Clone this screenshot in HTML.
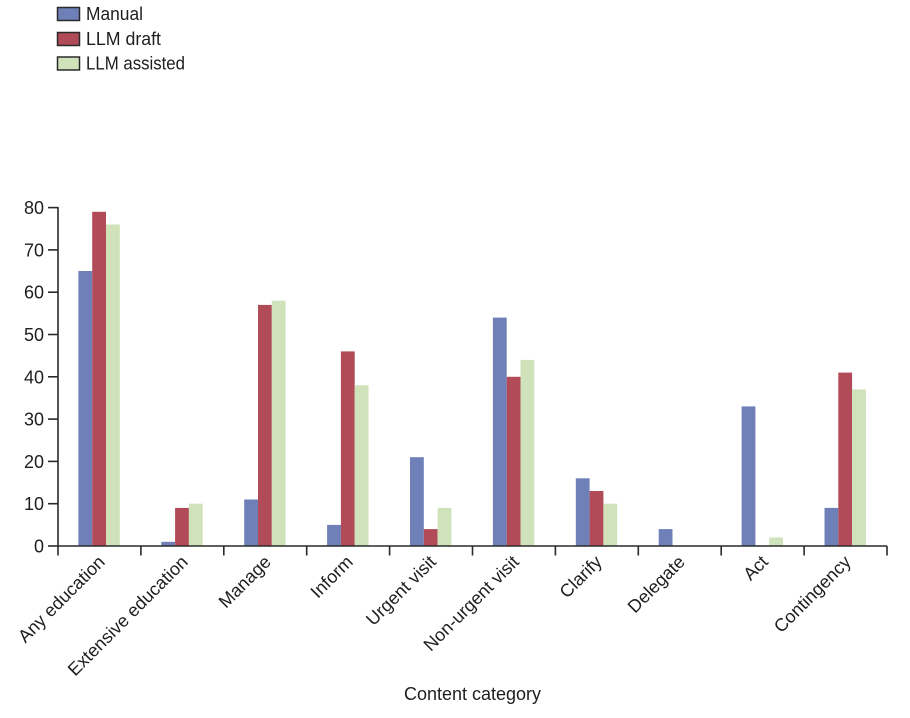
<!DOCTYPE html>
<html>
<head>
<meta charset="utf-8">
<style>
  html, body { margin: 0; padding: 0; background: #ffffff; }
  svg { display: block; }
  text { font-family: "Liberation Sans", "DejaVu Sans", sans-serif; fill: #1e1e1e; }
</style>
</head>
<body>
<svg width="910" height="718" viewBox="0 0 910 718" xmlns="http://www.w3.org/2000/svg">
  <!-- Legend -->
  <rect x="57.5" y="7.5" width="22" height="13" fill="#6f80b9" stroke="#2a2a2a" stroke-width="1.5"/>
  <text x="86" y="20" font-size="18" textLength="57" lengthAdjust="spacingAndGlyphs">Manual</text>
  <rect x="57.5" y="32.5" width="22" height="13" fill="#b04b57" stroke="#2a2a2a" stroke-width="1.5"/>
  <text x="86" y="45" font-size="18" textLength="75" lengthAdjust="spacingAndGlyphs">LLM draft</text>
  <rect x="57.5" y="57" width="22" height="13" fill="#d0e2ba" stroke="#2a2a2a" stroke-width="1.5"/>
  <text x="86" y="69.5" font-size="18" textLength="99" lengthAdjust="spacingAndGlyphs">LLM assisted</text>

  <g id="bars">
    <!-- Any education 65,79,76 -->
    <rect x="78.4" y="271.0" width="13.8" height="275.0" fill="#6f80b9"/>
    <rect x="92.2" y="211.8" width="13.8" height="334.2" fill="#b04b57"/>
    <rect x="106.0" y="224.5" width="13.8" height="321.5" fill="#d0e2ba"/>
    <!-- Extensive education 1,9,10 -->
    <rect x="161.3" y="541.8" width="13.8" height="4.2" fill="#6f80b9"/>
    <rect x="175.1" y="507.9" width="13.8" height="38.1" fill="#b04b57"/>
    <rect x="188.9" y="503.7" width="13.8" height="42.3" fill="#d0e2ba"/>
    <!-- Manage 11,57,58 -->
    <rect x="244.2" y="499.5" width="13.8" height="46.5" fill="#6f80b9"/>
    <rect x="258.0" y="304.9" width="13.8" height="241.1" fill="#b04b57"/>
    <rect x="271.8" y="300.7" width="13.8" height="245.3" fill="#d0e2ba"/>
    <!-- Inform 5,46,38 -->
    <rect x="327.1" y="524.9" width="13.8" height="21.1" fill="#6f80b9"/>
    <rect x="340.9" y="351.4" width="13.8" height="194.6" fill="#b04b57"/>
    <rect x="354.7" y="385.3" width="13.8" height="160.7" fill="#d0e2ba"/>
    <!-- Urgent visit 21,4,9 -->
    <rect x="410.0" y="457.2" width="13.8" height="88.8" fill="#6f80b9"/>
    <rect x="423.8" y="529.1" width="13.8" height="16.9" fill="#b04b57"/>
    <rect x="437.6" y="507.9" width="13.8" height="38.1" fill="#d0e2ba"/>
    <!-- Non-urgent visit 54,40,44 -->
    <rect x="492.9" y="317.6" width="13.8" height="228.4" fill="#6f80b9"/>
    <rect x="506.7" y="376.8" width="13.8" height="169.2" fill="#b04b57"/>
    <rect x="520.5" y="359.9" width="13.8" height="186.1" fill="#d0e2ba"/>
    <!-- Clarify 16,13,10 -->
    <rect x="575.8" y="478.3" width="13.8" height="67.7" fill="#6f80b9"/>
    <rect x="589.6" y="491.0" width="13.8" height="55.0" fill="#b04b57"/>
    <rect x="603.4" y="503.7" width="13.8" height="42.3" fill="#d0e2ba"/>
    <!-- Delegate 4,0,0 -->
    <rect x="658.7" y="529.1" width="13.8" height="16.9" fill="#6f80b9"/>
    <!-- Act 33,0,2 -->
    <rect x="741.6" y="406.4" width="13.8" height="139.6" fill="#6f80b9"/>
    <rect x="769.2" y="537.5" width="13.8" height="8.5" fill="#d0e2ba"/>
    <!-- Contingency 9,41,37 -->
    <rect x="824.5" y="507.9" width="13.8" height="38.1" fill="#6f80b9"/>
    <rect x="838.3" y="372.6" width="13.8" height="173.4" fill="#b04b57"/>
    <rect x="852.1" y="389.5" width="13.8" height="156.5" fill="#d0e2ba"/>
  </g>

  <!-- Axes -->
  <g stroke="#2a2a2a" stroke-width="1.6" fill="none">
    <line x1="58" y1="207" x2="58" y2="546.8"/>
    <line x1="57.2" y1="546" x2="887" y2="546"/>
    <line x1="48" y1="546" x2="58" y2="546"/>
    <line x1="48" y1="503.7" x2="58" y2="503.7"/>
    <line x1="48" y1="461.4" x2="58" y2="461.4"/>
    <line x1="48" y1="419.1" x2="58" y2="419.1"/>
    <line x1="48" y1="376.8" x2="58" y2="376.8"/>
    <line x1="48" y1="334.5" x2="58" y2="334.5"/>
    <line x1="48" y1="292.2" x2="58" y2="292.2"/>
    <line x1="48" y1="249.9" x2="58" y2="249.9"/>
    <line x1="48" y1="207.6" x2="58" y2="207.6"/>
    <line x1="58" y1="546" x2="58" y2="555.5"/>
    <line x1="140.9" y1="546" x2="140.9" y2="555.5"/>
    <line x1="223.8" y1="546" x2="223.8" y2="555.5"/>
    <line x1="306.7" y1="546" x2="306.7" y2="555.5"/>
    <line x1="389.6" y1="546" x2="389.6" y2="555.5"/>
    <line x1="472.5" y1="546" x2="472.5" y2="555.5"/>
    <line x1="555.4" y1="546" x2="555.4" y2="555.5"/>
    <line x1="638.3" y1="546" x2="638.3" y2="555.5"/>
    <line x1="721.2" y1="546" x2="721.2" y2="555.5"/>
    <line x1="804.1" y1="546" x2="804.1" y2="555.5"/>
    <line x1="887" y1="546" x2="887" y2="555.5"/>
  </g>

  <!-- Y tick labels -->
  <g font-size="18" text-anchor="end">
    <text x="44" y="552.5">0</text>
    <text x="44" y="510.2">10</text>
    <text x="44" y="467.9">20</text>
    <text x="44" y="425.6">30</text>
    <text x="44" y="383.3">40</text>
    <text x="44" y="341">50</text>
    <text x="44" y="298.7">60</text>
    <text x="44" y="256.4">70</text>
    <text x="44" y="214.1">80</text>
  </g>

  <!-- X category labels -->
  <g font-size="18" text-anchor="end">
    <text transform="translate(106,563) rotate(-45)">Any education</text>
    <text transform="translate(189,563) rotate(-45)">Extensive education</text>
    <text transform="translate(272,563) rotate(-45)">Manage</text>
    <text transform="translate(354,563) rotate(-45)">Inform</text>
    <text transform="translate(437,563) rotate(-45)">Urgent visit</text>
    <text transform="translate(520,563) rotate(-45)">Non-urgent visit</text>
    <text transform="translate(603,563) rotate(-45)">Clarify</text>
    <text transform="translate(686,563) rotate(-45)">Delegate</text>
    <text transform="translate(769,563) rotate(-45)">Act</text>
    <text transform="translate(852,563) rotate(-45)">Contingency</text>
  </g>

  <!-- X axis title -->
  <text x="472.5" y="700" font-size="18" text-anchor="middle">Content category</text>
</svg>
</body>
</html>
